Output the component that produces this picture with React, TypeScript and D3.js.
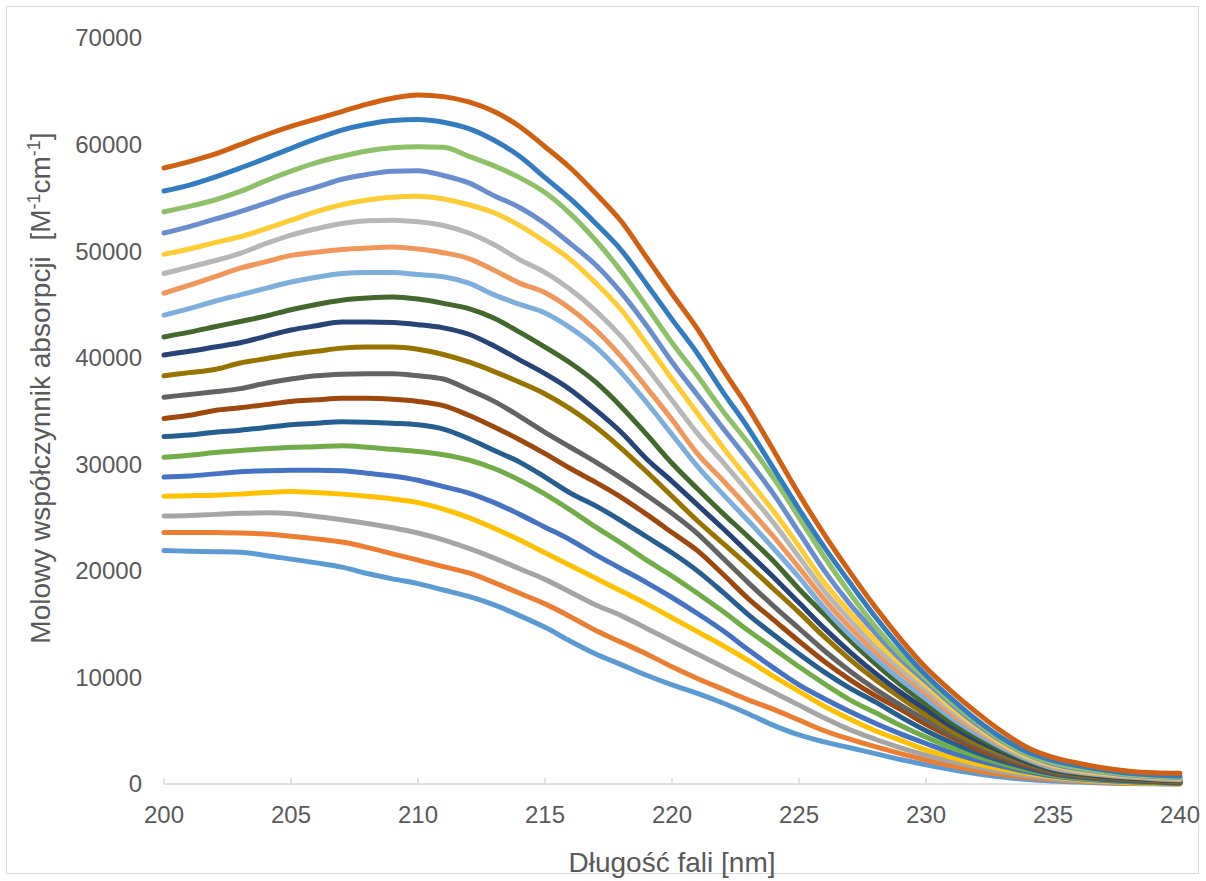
import React from "react";
import * as d3 from "d3";

const wavelengths = [200,201,202,203,204,205,206,207,208,209,210,211,212,213,214,215,216,217,218,219,220,221,222,223,224,225,226,227,228,229,230,231,232,233,234,235,236,237,238,239,240];

const s1 = [21900,21850,21800,21750,21450,21100,20750,20350,19750,19250,18800,18200,17600,16800,15800,14700,13400,12200,11200,10200,9300,8500,7600,6600,5500,4600,3950,3400,2850,2300,1800,1350,950,650,420,280,180,100,50,20,0];
const s2 = [23600,23600,23600,23550,23450,23250,23000,22700,22200,21600,21000,20400,19800,18900,17900,16900,15700,14400,13300,12200,11000,9900,8900,7900,7000,6000,5000,4200,3500,2850,2250,1700,1250,900,600,400,250,150,80,40,20];
const s3 = [25150,25200,25300,25400,25450,25350,25100,24800,24450,24050,23550,22900,22100,21200,20200,19200,18000,16800,15800,14600,13400,12200,11000,9800,8600,7400,6200,5100,4200,3400,2700,2100,1600,1150,800,500,320,200,120,70,50];
const s4 = [27000,27050,27100,27200,27350,27450,27350,27200,27000,26750,26400,25800,25000,24000,22900,21700,20500,19300,18100,16900,15600,14300,13000,11600,10100,8700,7300,6100,5000,4100,3200,2500,1900,1400,1000,650,420,250,120,50,0];
const s5 = [28800,28900,29100,29300,29400,29450,29450,29400,29150,28900,28500,27900,27300,26400,25300,24100,22900,21500,20200,18900,17500,16000,14400,12600,10900,9300,8000,6800,5700,4700,3800,2950,2250,1650,1150,750,500,330,200,120,70];
const s6 = [30650,30850,31100,31300,31450,31600,31650,31750,31600,31400,31200,30900,30400,29600,28500,27200,25700,24100,22600,21000,19500,17900,16200,14400,12700,11000,9400,7900,6700,5500,4400,3400,2600,1900,1300,850,550,400,250,150,100];
const s7 = [32600,32750,33000,33200,33450,33700,33850,34000,33950,33850,33700,33300,32400,31300,30200,28800,27300,26100,24700,23200,21700,20000,18000,15900,14000,12200,10500,9000,7700,6300,5000,3900,2950,2150,1500,950,650,450,300,200,100];
const s8 = [34300,34600,35050,35300,35600,35900,36050,36200,36200,36100,35900,35500,34600,33500,32300,31000,29600,28300,26900,25300,23600,21900,19700,17400,15400,13400,11500,9800,8300,7000,5600,4400,3300,2400,1700,1050,750,550,400,250,150];
const s9 = [36300,36550,36800,37100,37600,38000,38300,38450,38500,38500,38300,38000,37000,35900,34500,33000,31600,30200,28700,27100,25400,23500,21200,18900,16700,14600,12500,10600,8900,7400,6000,4700,3600,2600,1850,1150,800,600,450,300,200];
const s10 = [38300,38600,38900,39500,39900,40300,40600,40900,41000,41000,40800,40300,39600,38700,37700,36600,35200,33500,31500,29300,27000,24700,22600,20500,18300,16100,13800,11700,9800,8100,6500,5000,3800,2800,1950,1250,900,650,500,350,250];
const s11 = [40250,40600,41000,41400,42000,42600,43000,43350,43350,43300,43100,42800,42200,41100,39800,38500,37000,35100,33000,30500,28400,26200,24000,21700,19400,17000,14600,12400,10400,8600,7000,5400,4100,3000,2050,1300,950,700,550,400,300];
const s12 = [41950,42400,42900,43400,43900,44500,45000,45400,45600,45700,45500,45100,44600,43700,42400,41000,39500,37700,35400,32800,30100,27700,25400,23200,20900,18300,15900,13500,11300,9300,7500,5800,4400,3200,2200,1400,1000,800,600,450,350];
const s13 = [44000,44600,45300,45900,46500,47100,47550,47900,48000,48000,47800,47600,47000,45900,45000,44200,42800,41000,38600,35800,32800,29800,27200,24700,22100,19400,16500,14000,11800,9800,8000,6200,4700,3400,2300,1500,1100,850,650,500,400];
const s14 = [46050,46800,47600,48400,49000,49600,49900,50150,50300,50400,50200,49850,49300,48200,47000,46100,44600,42600,40100,37200,34200,31000,28500,25900,23200,20300,17300,14700,12400,10400,8500,6600,5000,3600,2450,1600,1150,900,700,550,450];
const s15 = [47900,48500,49100,49800,50700,51500,52100,52600,52850,52900,52750,52400,51700,50600,49200,48000,46400,44400,42000,39100,36000,32900,30200,27400,24500,21300,18100,15400,12900,10800,8900,6900,5200,3700,2500,1700,1200,950,750,600,500];
const s16 = [49700,50200,50800,51350,52100,52900,53700,54350,54800,55050,55150,54900,54350,53600,52400,50900,49200,47000,44500,41300,38000,34800,31600,28600,25600,22300,18900,16100,13500,11300,9300,7200,5400,3800,2600,1800,1300,1000,800,650,550];
const s17 = [51700,52300,53000,53700,54500,55300,56000,56750,57200,57500,57550,57100,56400,55200,54100,52600,50700,48700,46100,43000,39600,36500,33400,30400,27200,23600,20000,16900,14200,11700,9600,7500,5600,4000,2750,1900,1400,1100,850,700,600];
const s18 = [53700,54200,54800,55600,56600,57500,58300,58900,59400,59700,59800,59750,58900,58000,56900,55500,53500,51000,48100,44800,41400,38300,35000,32000,28700,25000,21300,17900,14800,12100,9900,7700,5800,4100,2800,2000,1500,1150,900,750,650];
const s19 = [55650,56200,56950,57800,58700,59650,60550,61350,61900,62250,62350,62100,61500,60400,58900,56900,54900,52600,50100,46900,43600,40400,36800,33400,29600,25800,22200,18900,15700,12800,10200,8000,6000,4300,3000,2200,1700,1300,1000,850,750];
const s20 = [57800,58400,59100,60000,60900,61700,62400,63100,63800,64350,64650,64500,64000,63100,61700,59800,57800,55400,52800,49400,46000,42700,38900,35300,31300,27200,23400,19900,16600,13600,10900,8700,6700,4900,3400,2500,1950,1500,1200,1050,1000];

const seriesValues = [s1,s2,s3,s4,s5,s6,s7,s8,s9,s10,s11,s12,s13,s14,s15,s16,s17,s18,s19,s20];
const seriesColors = ["#5B9BD5","#ED7D31","#A5A5A5","#FFC000","#4472C4","#70AD47","#255E91","#9E480E","#636363","#997300","#264478","#43682B","#7CAFDD","#F1975A","#B7B7B7","#FFCD33","#698ED0","#8CC168","#327DC2","#D26012"];

const yTicks = [0,10000,20000,30000,40000,50000,60000,70000];
const xTicks = [200,205,210,215,220,225,230,235,240];

const W = 1206;
const H = 881;
const FONT = "'Liberation Sans', Arial, sans-serif";
const TXT = "#595959";

export default function App() {
  const x = d3.scaleLinear().domain([200, 240]).range([164, 1180]);
  const y = d3.scaleLinear().domain([0, 70000]).range([784, 38]);
  const line = d3
    .line<number>()
    .x((_, i) => x(wavelengths[i]))
    .y((d) => y(d))
    .curve(d3.curveMonotoneX);

  return (
    <svg
      width={W}
      height={H}
      style={{ position: "absolute", left: 0, top: 0, background: "#fff" }}
      fontFamily={FONT}
    >
      <rect x={0} y={0} width={W} height={H} fill="#fff" />
      <rect x={6.5} y={6.5} width={1192} height={867} fill="none" stroke="#D9D9D9" strokeWidth={1} />

      <line x1={x(200)} x2={x(240)} y1={y(0)} y2={y(0)} stroke="#D9D9D9" strokeWidth={1.5} />
      {xTicks.map((t) => (
        <line key={"xt" + t} x1={x(t)} x2={x(t)} y1={y(0)} y2={y(0) - 6} stroke="#D9D9D9" strokeWidth={1.5} />
      ))}

      {seriesValues.map((vals, i) => (
        <path
          key={"s" + i}
          d={line(vals) || ""}
          fill="none"
          stroke={seriesColors[i]}
          strokeWidth={5}
          strokeLinejoin="round"
          strokeLinecap="round"
        />
      ))}

      {yTicks.map((t) => (
        <text key={"yl" + t} x={142} y={y(t)} dy="0.35em" textAnchor="end" fontSize={24} fill={TXT}>
          {t}
        </text>
      ))}

      {xTicks.map((t) => (
        <text key={"xl" + t} x={x(t)} y={815} dy="0.35em" textAnchor="middle" fontSize={24} fill={TXT}>
          {t}
        </text>
      ))}

      <text x={672} y={862} dy="0.35em" textAnchor="middle" fontSize={28} fill={TXT}>
        Długość fali [nm]
      </text>
      <text
        transform="translate(40,388) rotate(-90)"
        textAnchor="middle"
        dy="0.35em"
        fontSize={28}
        fill={TXT}
        style={{ whiteSpace: "pre" }}
      >
        <tspan>{"Molowy współczynnik absorpcji  [M"}</tspan>
        <tspan fontSize={18} dy="-0.55em">-1</tspan>
        <tspan dy="0.35em">cm</tspan>
        <tspan fontSize={18} dy="-0.55em">-1</tspan>
        <tspan dy="0.35em">]</tspan>
      </text>
    </svg>
  );
}
